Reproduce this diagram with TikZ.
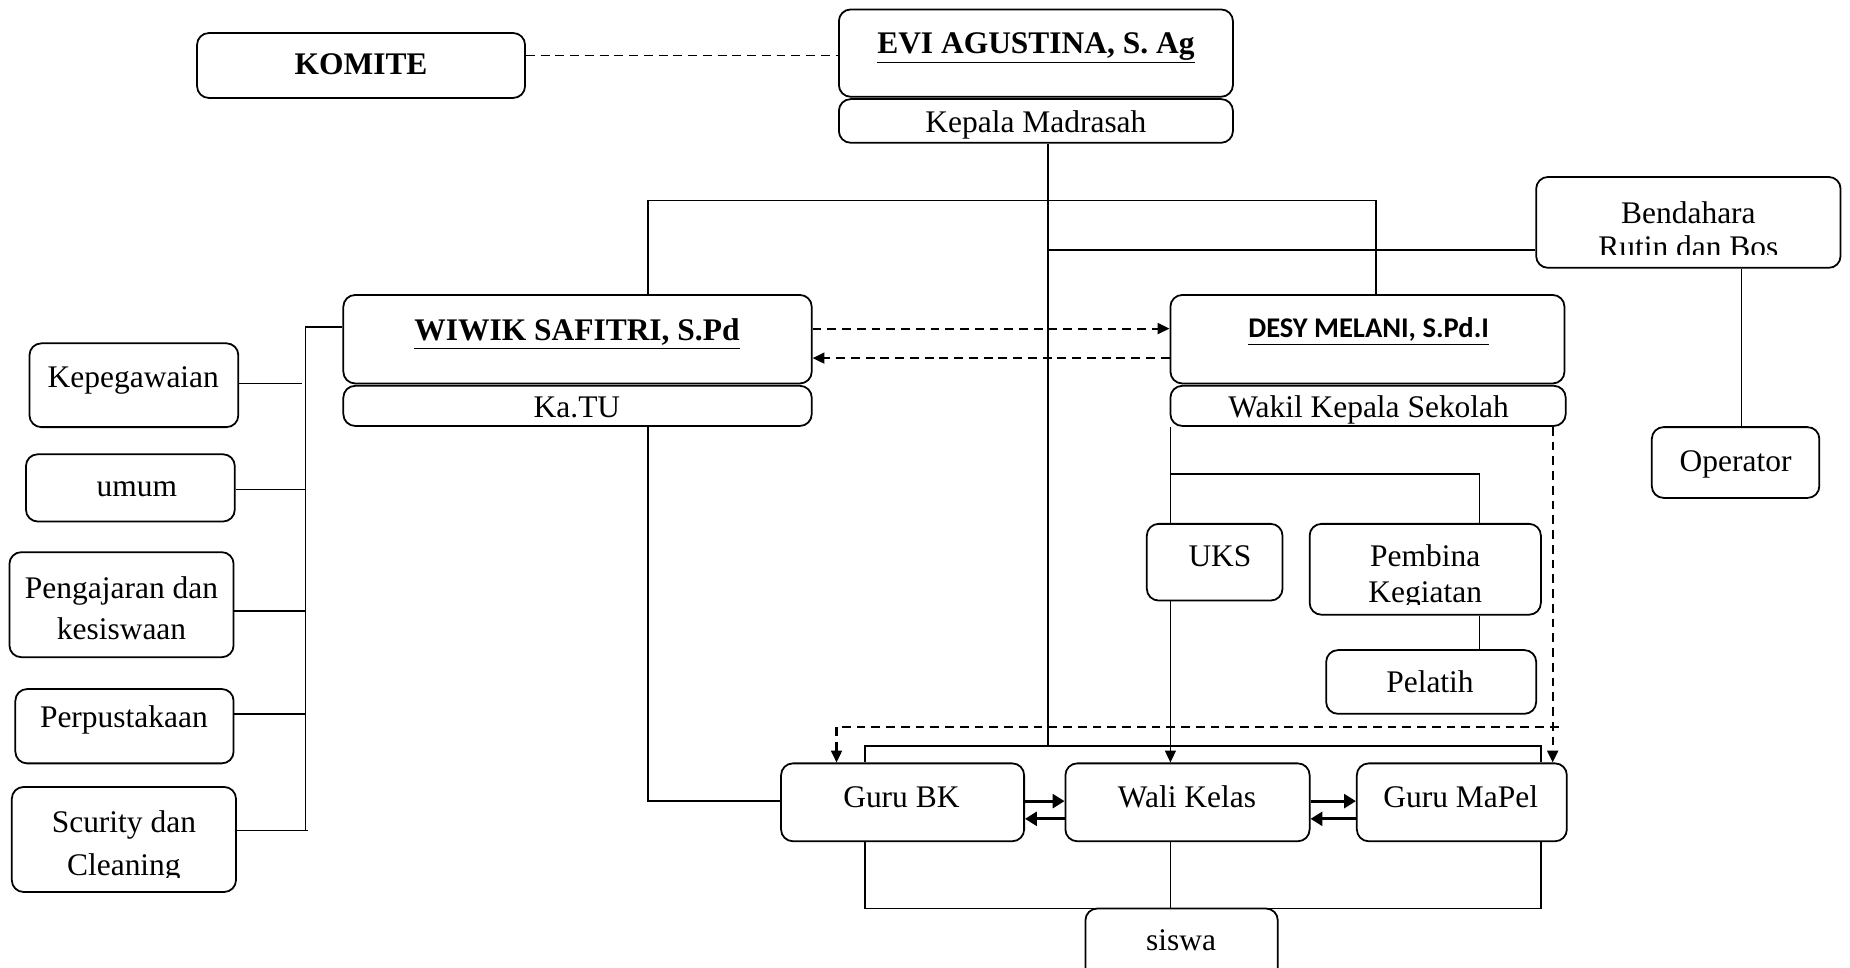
\documentclass[tikz,border=0pt]{standalone}
\usepackage{fontspec}
\setmainfont{Liberation Serif}
\newfontfamily\calib{Carlito}
\usetikzlibrary{arrows.meta}
\begin{document}
\begin{tikzpicture}[x=0.6pt,y=-0.6pt,
  box/.style={draw,rounded corners=6pt,line width=0.9pt,inner sep=0pt},
  txt/.style={inner sep=0pt,anchor=base,font=\fontsize{16}{19}\selectfont},
  ln/.style={line width=0.85pt},
  dsh/.style={line width=1.1pt,dash pattern=on 4.5pt off 3pt},
  tipd/.style={-{Triangle[length=6pt,width=5.5pt]}},
  thk/.style={line width=1.6pt,-{Triangle[length=6pt,width=7pt]}}]
\newcommand\bx[5]{\node[box,minimum width={(#3-#1)*0.6pt},minimum height={(#4-#2)*0.6pt}] (#5) at ({(#1+#3)/2},{(#2+#4)/2}) {};}
\useasboundingbox (0,0) rectangle (1568,820);
\clip (0,0) rectangle (1568,820);
% boxes
\bx{167}{28}{445}{83}{komite}
\bx{711}{8}{1045}{82}{evi}
\bx{711}{84}{1045}{121}{kepala}
\bx{1302}{150}{1560}{227}{bend}
\bx{1400}{362}{1542}{422}{oper}
\bx{291}{250}{688}{325}{wiwik}
\bx{291}{327}{688}{361}{katu}
\bx{992}{250}{1326}{325}{desy}
\bx{992}{327}{1327}{361}{wakil}
\bx{25}{291}{202}{362}{kepeg}
\bx{22}{385}{199}{442}{umum}
\bx{8}{468}{198}{557}{penga}
\bx{13}{584}{198}{647}{perpus}
\bx{10}{667}{200}{756}{scur}
\bx{972}{444}{1087}{509}{uks}
\bx{1110}{444}{1306}{521}{pemb}
\bx{1124}{551}{1302}{605}{pel}
\bx{662}{647}{868}{713}{gbk}
\bx{903}{647}{1110}{713}{wali}
\bx{1150}{647}{1328}{713}{gmp}
\bx{920}{770}{1083}{860}{siswa}
% texts
\node[txt] (tkom) at (306,63) {\textbf{KOMITE}};
\node[txt] (tevi) at (878,45) {\textbf{\underline{EVI AGUSTINA, S. Ag}}};
\node[txt] (tkep) at (878,112) {Kepala Madrasah};
\node[txt] (tben1) at (1431,189) {Bendahara};
\begin{scope}
\clip (1302,150) rectangle (1560,216);
\node[txt] (tben2) at (1431,218) {Rutin dan Bos};
\end{scope}
\node[txt] (top) at (1471,400) {Operator};
\node[txt] (twiw) at (489,289) {\textbf{\underline{WIWIK SAFITRI, S.Pd}}};
\node[txt] (tkatu) at (489,354) {Ka.TU};
\node[txt,font=\calib\bfseries\fontsize{14.5}{17}\selectfont] (tdesy) at (1160,286) {\underline{DESY MELANI, S.Pd.I}};
\node[txt] (twak) at (1160,354) {Wakil Kepala Sekolah};
\node[txt] (tkpg) at (113,328) {Kepegawaian};
\node[txt] (tum) at (116,421) {umum};
\node[txt] (tpg1) at (103,507) {Pengajaran dan};
\node[txt] (tpg2) at (103,542) {kesiswaan};
\node[txt] (tper) at (105,617) {Perpustakaan};
\node[txt] (tsc1) at (105,706) {Scurity dan};
\begin{scope}
\clip (10,667) rectangle (200,744);
\node[txt] (tsc2) at (105,742) {Cleaning};
\end{scope}
\node[txt] (tuks) at (1034,480) {UKS};
\node[txt] (tpb1) at (1208,480) {Pembina};
\begin{scope}
\clip (1110,444) rectangle (1306,512);
\node[txt] (tpb2) at (1208,511) {Kegiatan};
\end{scope}
\node[txt] (tpel) at (1212,587) {Pelatih};
\node[txt] (tgbk) at (764,684) {Guru BK};
\node[txt] (twali) at (1006,684) {Wali Kelas};
\node[txt] (tgmp) at (1238,684) {Guru MaPel};
\node[txt] (tsis) at (1001,806) {siswa};
% helper coordinates
\coordinate (vK) at (888,632);
\coordinate (tL) at (549,170);
\coordinate (tR) at (1166,170);
\coordinate (bJ) at (888,212);
\coordinate (bo) at (1476,300);
\coordinate (lT) at (259,277);
\coordinate (lB) at (259,704);
\coordinate (y47) at (0,47);
\coordinate (y325) at (0,325);
\coordinate (y415) at (0,415);
\coordinate (y518) at (0,518);
\coordinate (y605) at (0,605);
\coordinate (y704) at (0,704);
\coordinate (kb) at (549,679);
\coordinate (wv) at (992,402);
\coordinate (wr) at (1254,402);
\coordinate (dv) at (1316,400);
\coordinate (dh1) at (1321,616);
\coordinate (dh2) at (709,616);
\coordinate (gL) at (733,632);
\coordinate (gR) at (1306,632);
\coordinate (sL) at (733,770);
\coordinate (sR) at (1306,770);
\coordinate (sM) at (992,770);
% connectors
\draw[dsh,line width=0.9pt] (komite.east |- y47) -- (evi.west |- y47);
\draw[ln] (kepala.south -| vK) -- (vK);
\draw[ln] (wiwik.north -| tL) -- (tL) -- (tR) -- (desy.north -| tR);
\draw[ln] (bJ) -- (bend.west |- bJ);
\draw[ln] (bend.south -| bo) -- (oper.north -| bo);
\draw[dsh,tipd] ([yshift=5.4pt]wiwik.east) -- ([yshift=5.4pt]desy.west);
\draw[dsh,tipd] ([yshift=-9.6pt]desy.west) -- ([yshift=-9.6pt]wiwik.east);
\draw[ln] (wiwik.west |- lT) -- (lT) -- (lB);
\draw[ln] (kepeg.east |- y325) -- ([xshift=-2pt]lT |- y325);
\draw[ln] (umum.east |- y415) -- (lT |- y415);
\draw[ln] (penga.east |- y518) -- (lT |- y518);
\draw[ln] (perpus.east |- y605) -- (lT |- y605);
\draw[ln] (scur.east |- y704) -- ([xshift=1pt]lB);
\draw[ln] (katu.south -| kb) -- (kb) -- (gbk.west |- kb);
\draw[ln] (wakil.south -| wv) -- (uks.north -| wv);
\draw[ln] (wv) -- (wr) -- (pemb.north -| wr);
\draw[ln] (pemb.south -| wr) -- (pel.north -| wr);
\draw[ln,tipd] (uks.south -| wv) -- (wali.north -| wv);
\draw[dsh,tipd] (wakil.south -| dv) -- (gmp.north -| dv);
\draw[dsh,tipd] (dh1) -- (dh2) -- (gbk.north -| dh2);
\draw[ln] (gbk.north -| gL) -- (gL) -- (gR) -- (gmp.north -| gR);
\draw[thk] ([yshift=0.6pt]gbk.east) -- ([yshift=0.6pt]wali.west);
\draw[thk] ([yshift=-8.4pt]wali.west) -- ([yshift=-8.4pt]gbk.east);
\draw[thk] ([yshift=0.6pt]wali.east) -- ([yshift=0.6pt]gmp.west);
\draw[thk] ([yshift=-8.4pt]gmp.west) -- ([yshift=-8.4pt]wali.east);
\draw[ln] (gbk.south -| sL) -- (sL) -- (sR) -- (gmp.south -| sR);
\draw[ln] (wali.south -| sM) -- (siswa.north -| sM);
\end{tikzpicture}
\end{document}
